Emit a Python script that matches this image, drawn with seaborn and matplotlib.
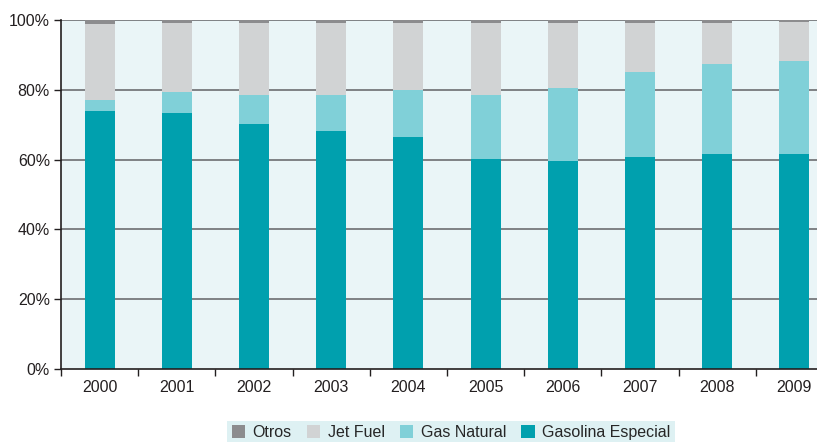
import matplotlib
matplotlib.use("Agg")
import numpy as np
import pandas as pd
import seaborn as sns
from matplotlib import pyplot as plt
from matplotlib.patches import Patch
from matplotlib.ticker import FixedLocator, PercentFormatter

years = ["2000", "2001", "2002", "2003", "2004", "2005", "2006", "2007", "2008", "2009"]
gasolina = [73.9, 73.4, 70.2, 68.2, 66.5, 60.2, 59.6, 60.7, 61.6, 61.6]
gas_natural = [3.2, 6.0, 8.3, 10.3, 13.4, 18.3, 20.9, 24.4, 25.8, 26.7]
jet_fuel = [21.7, 19.7, 20.6, 20.6, 19.2, 20.6, 18.6, 14.0, 11.7, 11.1]
otros = [1.2, 0.9, 0.9, 0.9, 0.9, 0.9, 0.9, 0.9, 0.9, 0.6]

series = ["Otros", "Jet Fuel", "Gas Natural", "Gasolina Especial"]
colors = {"Otros": "#8c8c8e", "Jet Fuel": "#d1d3d4", "Gas Natural": "#80d0d8", "Gasolina Especial": "#00a0ae"}

sns.set_theme(style="white")
plt.rcParams["font.family"] = ["Liberation Sans", "DejaVu Sans"]

df = pd.DataFrame({"year": years, "Gasolina Especial": gasolina, "Gas Natural": gas_natural,
                   "Jet Fuel": jet_fuel, "Otros": otros})
# cumulative tops, stacked from bottom
stack_order = ["Gasolina Especial", "Gas Natural", "Jet Fuel", "Otros"]
cum = df[stack_order].cumsum(axis=1)

fig = plt.figure(figsize=(8.17, 4.42), dpi=100)
# axes runs past the right edge of the figure (chart is cropped there)
ax = fig.add_axes([61 / 817, 73 / 442, 772 / 817, 349 / 442])
ax.set_facecolor("#eaf5f7")

for y in [20, 40, 60, 80, 100]:
    ax.axhline(y, color="#6d6e71", lw=1.2, zorder=0.5)

# draw tallest first so the lower segments sit on top
for name in reversed(stack_order):
    sns.barplot(x=df["year"], y=cum[name], color=colors[name], width=0.39,
                saturation=1, ax=ax, zorder=2, linewidth=0)

ax.set_ylim(0, 100)
ax.set_xlim(-0.5, 9.5)
ax.yaxis.set_major_locator(FixedLocator([0, 20, 40, 60, 80, 100]))
ax.yaxis.set_major_formatter(PercentFormatter(decimals=0))
ax.set_xlabel("")
ax.set_ylabel("")

ax.set_xticks(np.arange(-0.5, 9.6, 1.0), minor=True)
ax.tick_params(axis="x", which="major", length=0, labelsize=11.5, pad=8, colors="#231f20")
ax.tick_params(axis="x", which="minor", length=5, width=1, color="#231f20", direction="out", bottom=True)
ax.tick_params(axis="y", length=5, width=1, direction="out", left=True, labelsize=11.5,
               colors="#231f20", pad=3)

for s in ["top", "right"]:
    ax.spines[s].set_visible(False)
for s in ["left", "bottom"]:
    ax.spines[s].set_color("#231f20")
    ax.spines[s].set_linewidth(1.2)

handles = [Patch(facecolor=colors[n], edgecolor="none", label=n) for n in series]
leg = fig.legend(handles=handles, loc="lower center", bbox_to_anchor=(0.552, -0.018), ncol=4,
                 frameon=True, fancybox=False, fontsize=11.5, handlelength=0.85, handleheight=0.85,
                 handletextpad=0.45, columnspacing=0.95, borderpad=0.3, borderaxespad=0.3)
leg.get_frame().set_facecolor("#d6eef0")
leg.get_frame().set_edgecolor("none")

fig.savefig("out.png", dpi=100)
